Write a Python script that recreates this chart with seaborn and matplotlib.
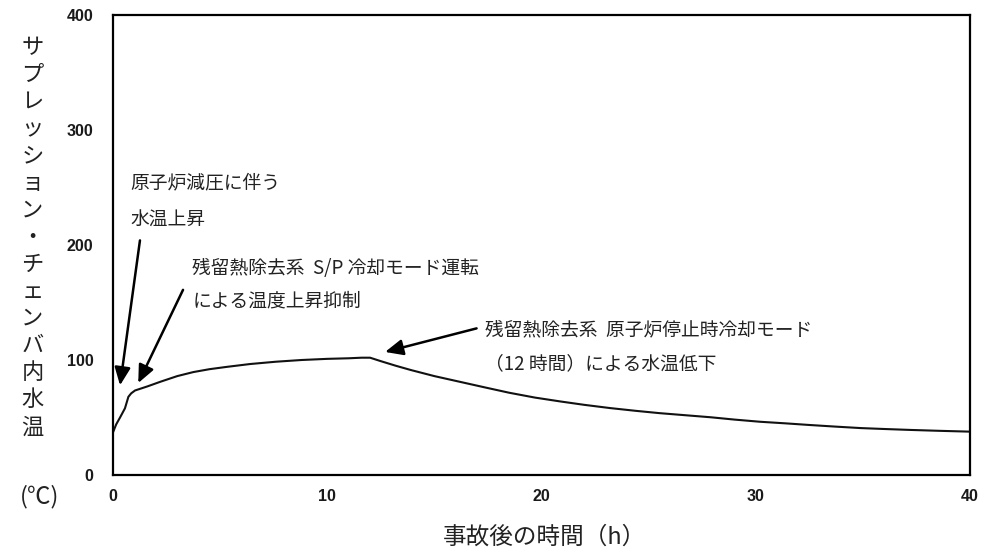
import numpy as np
import pandas as pd
import matplotlib
matplotlib.use("Agg")
import matplotlib.pyplot as plt
import seaborn as sns

# values
hours = [0.0, 0.15, 0.33, 0.56, 0.72, 0.85, 1.03, 1.6, 2.2, 3.0, 3.75, 4.5, 5.3,
         6.4, 7.6, 8.8, 10.0, 11.0, 11.6, 12.0, 12.5, 13.2, 13.9, 15.0, 16.2,
         17.4, 18.5, 19.7, 20.9, 22.0, 23.2, 24.4, 25.5, 26.7, 27.9, 29.0,
         30.2, 31.4, 32.5, 33.7, 34.9, 36.0, 37.2, 38.6, 40.0]
temps = [37, 44, 50, 58, 68, 71, 73.5, 77, 81, 86, 89.5, 92, 94,
         96.5, 98.5, 100, 101, 101.5, 102, 102, 99, 95, 91.3, 86, 81,
         76, 71.5, 67.3, 63.9, 61, 58.2, 55.8, 53.8, 52, 50.2, 48.2,
         46.3, 44.9, 43.5, 42.1, 40.8, 40.0, 39.2, 38.4, 37.7]
x_ticks = [0, 10, 20, 30, 40]
y_ticks = [0, 100, 200, 300, 400]

ylabel_chars = "サプレッション・チェンバ内水温"
ylabel_unit = "(℃)"
xlabel = "事故後の時間（h）"

notes = [
    # text, text pos (data), arrow tail, arrow tip (data), line spacing
    ("原子炉減圧に伴う\n水温上昇", (0.8, 263), (1.26, 204), (0.33, 78), 2.0),
    ("残留熱除去系  S/P 冷却モード運転\nによる温度上昇抑制", (3.7, 189), (3.27, 161), (1.18, 80), 1.75),
    ("残留熱除去系  原子炉停止時冷却モード\n（12 時間）による水温低下", (17.35, 135), (16.97, 127.5), (12.7, 107), 1.8),
]

sns.set_theme(style="white")
plt.rcParams["font.family"] = ["Noto Sans CJK JP", "DejaVu Sans"]

df = pd.DataFrame({"time": hours, "temp": temps})

fig = plt.figure(figsize=(9.84, 5.54), dpi=100)
ax = fig.add_axes([0.1148, 0.1426, 0.8710, 0.8303])
sns.lineplot(data=df, x="time", y="temp", ax=ax, color="#111111", linewidth=1.5)

ax.set_xlim(0, 40)
ax.set_ylim(0, 400)
ax.set_xticks(x_ticks)
ax.set_yticks(y_ticks)
ax.tick_params(axis="both", direction="in", length=5, width=0.8, color="#888888")
ax.tick_params(axis="y", pad=14)
ax.tick_params(axis="x", pad=10)
for lab in ax.get_xticklabels() + ax.get_yticklabels():
    lab.set_fontfamily("Liberation Sans")
    lab.set_fontweight("bold")
    lab.set_fontsize(11.5)
    lab.set_color("#1a1a1a")
for sp in ax.spines.values():
    sp.set_visible(True)
    sp.set_color("black")
    sp.set_linewidth(1.6)
ax.set_xlabel("")
ax.set_ylabel("")

# vertical stacked y label
fig.text(0.033, 0.572, "\n".join(ylabel_chars), ha="center", va="center",
         fontsize=16, color="#222222", linespacing=1.23)
fig.text(0.04, 0.103, ylabel_unit, ha="center", va="center",
         fontsize=17, color="#222222")
fig.text(0.553, 0.03, xlabel, ha="center", va="center", fontsize=17, color="#222222")

for text, pos, tail, tip, ls in notes:
    ax.text(pos[0], pos[1], text, fontsize=13.5, color="#222222",
            ha="left", va="top", linespacing=ls)
    ax.annotate("", xy=tip, xytext=tail,
                arrowprops=dict(arrowstyle="-|>,head_length=0.9,head_width=0.4",
                                color="black", lw=1.8, shrinkA=0, shrinkB=0))

fig.savefig("out.png", dpi=100)
